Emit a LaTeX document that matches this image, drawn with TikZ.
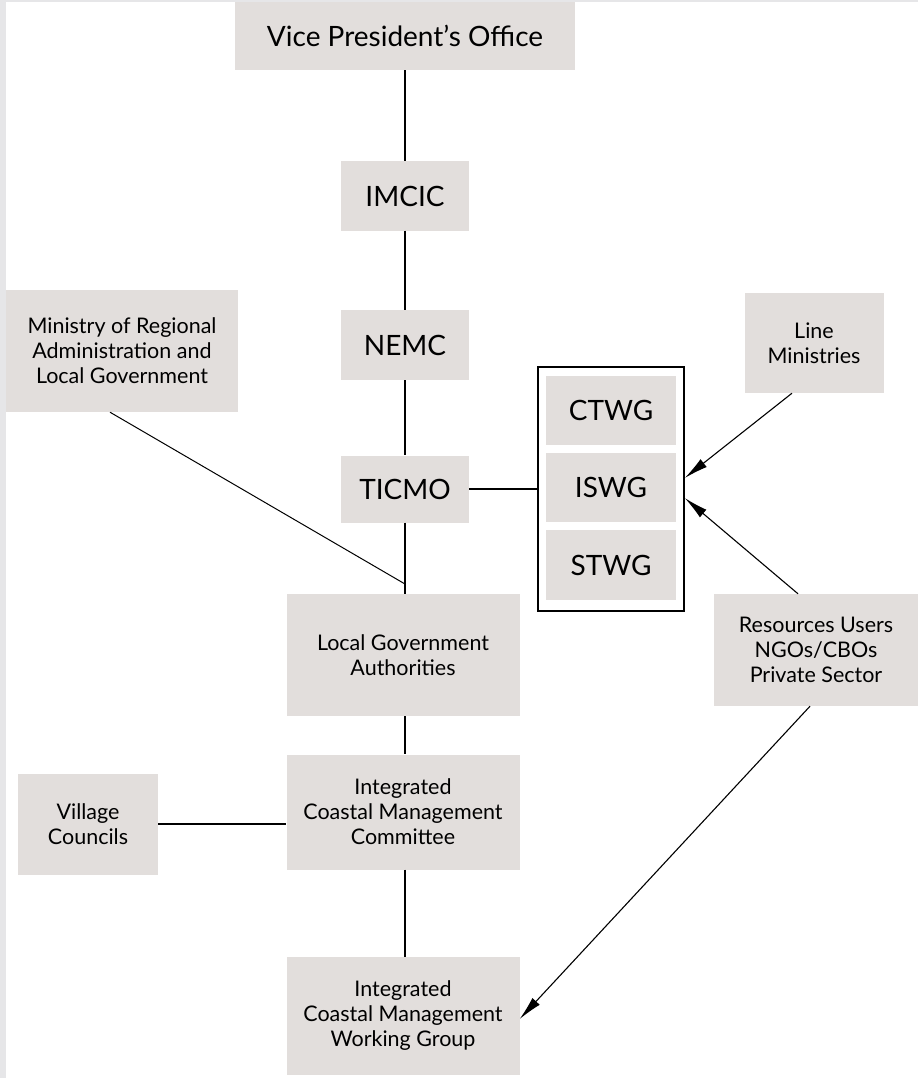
\documentclass[tikz,border=0pt]{standalone}
\usepackage{fontspec}
\setmainfont{Lato}
\usetikzlibrary{arrows.meta}
\definecolor{boxgray}{HTML}{E2DEDC}
\definecolor{edgegray}{HTML}{E6E6E8}

\begin{document}
\begin{tikzpicture}[x=1pt,y=-1pt,
  box/.style={fill=boxgray, inner sep=0pt, align=center},
  big/.style={box, font=\fontsize{28}{32}\selectfont},
  small/.style={box, font=\fontsize{21.5}{25}\selectfont},
  link/.style={line width=1.5pt},
  feed/.style={line width=1.1pt, -{Latex[length=24pt,width=10pt]}}]
  \useasboundingbox (0,0) rectangle (918,1078);
  \fill[edgegray] (0,0) rectangle (918,1078);
  \fill[white] (6,2) rectangle (918,1078);
  % central chain
  \node[big, minimum width=340pt, minimum height=68pt] (vpo) at (405,36) {Vice President's Office};
  \node[big, minimum width=128pt, minimum height=69pt] (imcic) at (405,196) {IMCIC};
  \node[big, minimum width=128pt, minimum height=70pt] (nemc) at (405,345) {NEMC};
  \node[big, minimum width=128pt, minimum height=67pt] (ticmo) at (405,489) {TICMO};
  \node[small, minimum width=233pt, minimum height=122pt] (lga) at (403,655) {Local Government\\Authorities};
  \node[small, minimum width=233pt, minimum height=115pt] (icmc) at (403,812) {Integrated\\Coastal Management\\Committee};
  \node[small, minimum width=233pt, minimum height=118pt] (icmwg) at (403,1016) {Integrated\\Coastal Management\\Working Group};
  % side boxes
  \node[small, minimum width=232pt, minimum height=122pt] (mralg) at (122,351) {Ministry of Regional\\Administration and\\Local Government};
  \node[small, minimum width=140pt, minimum height=101pt] (vc) at (88,824) {Village\\Councils};
  \node[small, minimum width=139pt, minimum height=100pt] (lm) at (814,343) {Line\\Ministries};
  \node[small, minimum width=204pt, minimum height=112pt] (ru) at (816,650) {Resources Users\\NGOs/CBOs\\Private Sector};
  % working groups
  \node[draw, line width=1.5pt, minimum width=146pt, minimum height=244pt] (wg) at (611,489) {};
  \node[big, minimum width=130pt, minimum height=69pt] (ctwg) at (611,410) {CTWG};
  \node[big, minimum width=130pt, minimum height=69pt] (iswg) at (611,487) {ISWG};
  \node[big, minimum width=130pt, minimum height=70pt] (stwg) at (611,565) {STWG};
  \coordinate (join) at (405,584);
  \path[link]
    (vpo) edge (imcic)
    (imcic) edge (nemc)
    (nemc) edge (ticmo)
    (ticmo) edge (ticmo |- lga.north)
    (ticmo |- lga.south) edge (ticmo |- icmc.north)
    (ticmo |- icmc.south) edge (ticmo |- icmwg.north)
    (ticmo) edge (wg)
    (vc) edge (vc -| icmc.west);
  \draw[line width=1pt] ([xshift=-12pt]mralg.south) -- (join);
  \path[feed]
    ([xshift=-22pt]lm.south) edge ([yshift=11pt]wg.east)
    ([xshift=-18pt]ru.north) edge ([yshift=-9pt]wg.east)
    ([xshift=-6pt]ru.south) edge ([yshift=-3pt]icmwg.east);
\end{tikzpicture}
\end{document}
